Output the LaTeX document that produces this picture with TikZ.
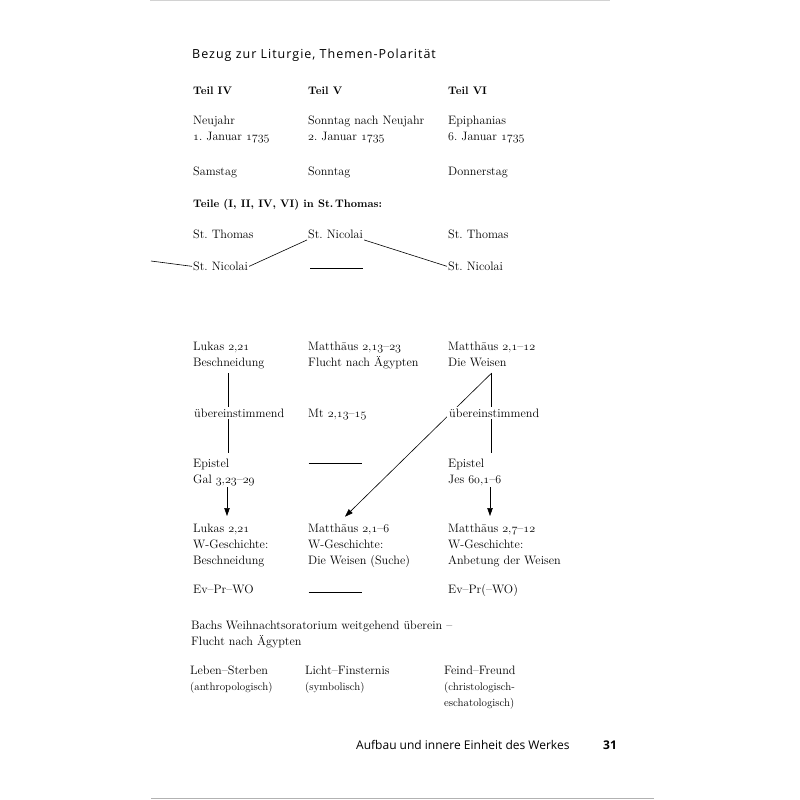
\documentclass[tikz,border=0pt]{standalone}
\usepackage{fontspec}
\usetikzlibrary{arrows.meta,backgrounds}
\newfontfamily\headfont[LetterSpace=8]{Open Sans}
\newfontfamily\footfont{Open Sans}
\newcommand\osn[1]{{\fontencoding{OML}\fontfamily{cmm}\fontseries{m}\fontshape{it}\selectfont #1}}
\frenchspacing
\tikzset{
  txt/.style={anchor=base west, inner sep=1pt, align=left, font=\fontsize{12.2}{16}\selectfont},
  bld/.style={anchor=base west, inner sep=1pt, font=\fontsize{10.9}{14}\selectfont\bfseries},
  sml/.style={anchor=base west, inner sep=1pt, align=left, font=\fontsize{11}{16}\selectfont},
  gap/.style={txt, fill=white, inner sep=2pt},
  head/.style={anchor=base west, inner sep=0pt, font=\headfont\fontsize{12.5}{15}\selectfont},
  foot/.style={anchor=base west, inner sep=0pt, font=\footfont\fontsize{12}{15}\selectfont},
  ln/.style={line width=0.6pt},
  arr/.style={ln, -{Triangle[length=8pt,width=5.5pt]}},
  dashline/.style={line width=0.6pt},
  scan/.style={line width=1.2pt, gray!60},
}
\begin{document}
\begin{tikzpicture}[x=1pt,y=-1pt]
\useasboundingbox (0,0) rectangle (800,800);
% coordinates
\coordinate (fl) at (151,261);
\coordinate (v1a) at (228,373);
\coordinate (v1b) at (228,453);
\coordinate (a1a) at (227,487);
\coordinate (a1b) at (227,516);
\coordinate (v3a) at (491.7,373);
\coordinate (v3b) at (491.7,453);
\coordinate (a3a) at (490,487);
\coordinate (a3b) at (490,516);
\coordinate (dg) at (345,516.7);
\coordinate (d1a) at (310,268.3);
\coordinate (d1b) at (362.5,268.3);
\coordinate (d2a) at (308.5,463.3);
\coordinate (d2b) at (361.5,463.3);
\coordinate (d3a) at (308.5,592.3);
\coordinate (d3b) at (361.5,592.3);
\coordinate (st) at (150,0.7);
\coordinate (se) at (610,0.7);
\coordinate (sb) at (151,798.8);
\coordinate (sbe) at (654,798.8);

% heading
\node[head] (title) at (192,59) {Bezug zur Liturgie, Themen-Polarität};
% Teil row
\node[bld] (t4) at (192,94) {Teil IV};
\node[bld] (t5) at (307,94) {Teil V};
\node[bld] (t6) at (447,94) {Teil VI};
% dates (base anchor = last line)
\node[txt] (dt4) at (192,140) {Neujahr\\\osn{1}. Januar \osn{1735}};
\node[txt] (dt5) at (307,140) {Sonntag nach Neujahr\\\osn{2}. Januar \osn{1735}};
\node[txt] (dt6) at (447,140) {Epiphanias\\\osn{6}. Januar \osn{1735}};
% weekdays
\node[txt] (wd4) at (192,175) {Samstag};
\node[txt] (wd5) at (307,175) {Sonntag};
\node[txt] (wd6) at (447,175) {Donnerstag};
% churches
\node[bld] (teile) at (192,207) {Teile (I, II, IV, VI) in St.\,Thomas:};
\node[txt] (th4) at (192,238.5) {St. Thomas};
\node[txt] (ni5) at (307,238.5) {St. Nicolai};
\node[txt] (th6) at (447,238.5) {St. Thomas};
\node[txt] (ni4) at (192,270.5) {St. Nicolai};
\node[txt] (ni6) at (447,270.5) {St. Nicolai};
% gospels
\node[txt] (g4) at (192,366) {Lukas \osn{2},\osn{21}\\Beschneidung};
\node[txt] (g5) at (307,366) {Matthäus \osn{2},\osn{13}–\osn{23}\\Flucht nach Ägypten};
\node[txt] (g6) at (447,366) {Matthäus \osn{2},\osn{1}–\osn{12}\\Die Weisen};
\node[gap] (u4) at (192,417) {übereinstimmend};
\node[txt] (mt5) at (307,417) {Mt \osn{2},\osn{13}–\osn{15}};
\node[gap] (u6) at (447,417) {übereinstimmend};
\node[txt] (ep4) at (192,483) {Epistel\\Gal \osn{3},\osn{23}–\osn{29}};
\node[txt] (ep6) at (447,483) {Epistel\\Jes \osn{60},\osn{1}–\osn{6}};
\node[txt] (w4) at (192,564) {Lukas \osn{2},\osn{21}\\W-Geschichte:\\Beschneidung};
\node[txt] (w5) at (307,564) {Matthäus \osn{2},\osn{1}–\osn{6}\\W-Geschichte:\\Die Weisen (Suche)};
\node[txt] (w6) at (447,564) {Matthäus \osn{2},\osn{7}–\osn{12}\\W-Geschichte:\\Anbetung der Weisen};
\node[txt] (ev4) at (192,593) {Ev–Pr–WO};
\node[txt] (ev6) at (447,593) {Ev–Pr(–WO)};
% notes
\node[txt] (bach) at (190,645) {Bachs Weihnachtsoratorium weitgehend überein –\\Flucht nach Ägypten};
\node[txt] (p1) at (189,674) {Leben–Sterben};
\node[sml] (p1s) at (189,690) {(anthropologisch)};
\node[txt] (p2) at (304,674) {Licht–Finsternis};
\node[sml] (p2s) at (304,690) {(symbolisch)};
\node[txt] (p3) at (443,674) {Feind–Freund};
\node[sml] (p3s) at (443,706) {(christologisch-\\eschatologisch)};
% footer
\node[foot] (ft) at (356,749) {Aufbau und innere Einheit des Werkes};
\node[foot, font=\footfont\fontsize{12}{15}\selectfont\bfseries] (pg) at (603,749) {31};

\begin{pgfonlayer}{background}
\draw[ln] (fl) -- (ni4.west);
\draw[ln] (ni4.east) -- (ni5.south west);
\draw[ln] (ni5.south east) -- (ni6.west);
\draw[dashline] (d1a) -- (d1b);
\draw[dashline] (d2a) -- (d2b);
\draw[dashline] (d3a) -- (d3b);
\draw[ln] (v1a) -- (v1b);
\draw[arr] (a1a) -- (a1b);
\draw[ln] (v3a) -- (v3b);
\draw[arr] (a3a) -- (a3b);
\draw[arr] (v3a) -- (dg);
\draw[scan, gray!35, line width=1pt] (st) -- (se);
\draw[scan] (sb) -- (sbe);
\end{pgfonlayer}
\end{tikzpicture}
\end{document}
